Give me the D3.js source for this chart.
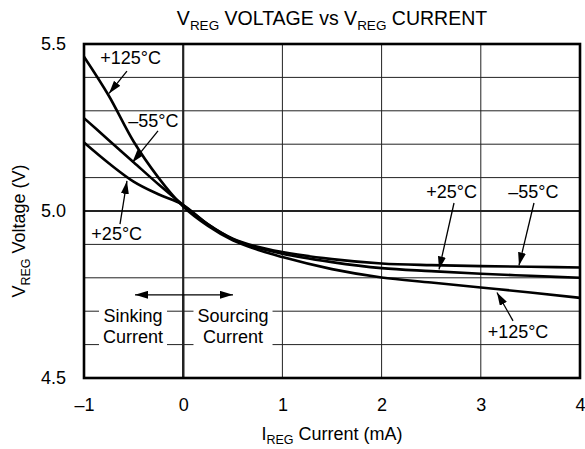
<!DOCTYPE html>
<html lang="en">
  <head>
    <meta charset="UTF-8" />
    <title>VREG voltage vs VREG current</title>
    <script src="https://d3js.org/d3.v7.min.js"></script>
    <style>
      body {
        margin: 0;
        background: #fff;
      }
      svg text {
        font-family: "Liberation Sans", Arial, sans-serif;
        font-size: 18px;
        fill: #000;
      }
    </style>
  </head>
  <body>
    <svg id="chart" width="585" height="449"></svg>

    <script>
      // current (mA) sample points
      const current = [-1, -0.75, -0.5, -0.25, 0, 0.25, 0.5, 0.75, 1, 1.5, 2, 2.5, 3, 3.5, 4];
      // regulator voltage (V) per temperature
      const v125 = [5.462, 5.345, 5.208, 5.1, 5.013, 4.955, 4.912, 4.884, 4.862, 4.826, 4.801, 4.786, 4.771, 4.756, 4.74];
      const vMinus55 = [5.278, 5.212, 5.146, 5.08, 5.018, 4.96, 4.917, 4.893, 4.877, 4.856, 4.843, 4.838, 4.835, 4.833, 4.831];
      const v25 = [5.205, 5.143, 5.088, 5.05, 5.018, 4.96, 4.916, 4.89, 4.872, 4.847, 4.829, 4.82, 4.812, 4.806, 4.8];

      const xTicks = [-1, 0, 1, 2, 3, 4];
      const yTicks = [4.5, 5.0, 5.5];

      // labels with arrows: text centre (tx, ty) and arrow from (ax0, ay0) to tip (ax1, ay1), all in data units
      const callouts = [
        { label: "+125°C", tx: -0.53, ty: 5.44, ax0: -0.567, ay0: 5.419, ax1: -0.748, ay1: 5.352 },
        { label: "–55°C", tx: -0.3, ty: 5.251, ax0: -0.254, ay0: 5.24, ax1: -0.513, ay1: 5.145 },
        { label: "+25°C", tx: -0.67, ty: 4.913, ax0: -0.637, ay0: 4.961, ax1: -0.567, ay1: 5.09 },
        { label: "+25°C", tx: 2.705, ty: 5.039, ax0: 2.73, ay0: 5.024, ax1: 2.579, ay1: 4.825 },
        { label: "–55°C", tx: 3.53, ty: 5.039, ax0: 3.536, ay0: 5.024, ax1: 3.385, ay1: 4.837 },
        { label: "+125°C", tx: 3.375, ty: 4.62, ax0: 3.325, ay0: 4.671, ax1: 3.163, ay1: 4.756 }
      ];

      const width = 585;
      const height = 449;
      const margin = { top: 44, right: 5, bottom: 71, left: 84 };

      const svg = d3.select("#chart");

      const x = d3
        .scaleLinear()
        .domain([-1, 4])
        .range([margin.left, width - margin.right]);

      const y = d3
        .scaleLinear()
        .domain([4.5, 5.5])
        .range([height - margin.bottom, margin.top]);

      // arrow head
      const defs = svg.append("defs");
      defs
        .append("marker")
        .attr("id", "head")
        .attr("viewBox", "0 0 13 8")
        .attr("refX", 13)
        .attr("refY", 4)
        .attr("markerWidth", 13)
        .attr("markerHeight", 8)
        .attr("markerUnits", "userSpaceOnUse")
        .attr("orient", "auto-start-reverse")
        .append("path")
        .attr("d", "M0,0 L13,4 L0,8 Z")
        .attr("fill", "#000");

      // grid: 0.1 V rows, 1 mA columns
      const rows = y.ticks(10);
      svg
        .append("g")
        .selectAll("line")
        .data(rows)
        .join("line")
        .attr("x1", x(-1))
        .attr("x2", x(4))
        .attr("y1", (d) => y(d))
        .attr("y2", (d) => y(d))
        .attr("stroke", "#222")
        .attr("stroke-width", (d) => (Math.abs(d - 5) < 1e-9 ? 2.2 : 1));

      svg
        .append("g")
        .selectAll("line")
        .data(xTicks)
        .join("line")
        .attr("x1", (d) => x(d))
        .attr("x2", (d) => x(d))
        .attr("y1", y(4.5))
        .attr("y2", y(5.5))
        .attr("stroke", "#222")
        .attr("stroke-width", (d) => (d === 0 ? 2.2 : 1));

      // Sinking / Sourcing note
      const note = svg.append("g");
      const noteText = [
        { cx: -0.506, lines: ["Sinking", "Current"] },
        { cx: 0.502, lines: ["Sourcing", "Current"] }
      ];
      noteText.forEach((n) => {
        const t = note
          .append("text")
          .attr("text-anchor", "middle")
          .attr("x", x(n.cx))
          .attr("y", y(4.668));
        t.append("tspan").attr("x", x(n.cx)).text(n.lines[0]);
        t.append("tspan").attr("x", x(n.cx)).attr("dy", 21).text(n.lines[1]);
        const b = t.node().getBBox();
        note
          .insert("rect", "text")
          .attr("x", b.x - 4)
          .attr("y", b.y)
          .attr("width", b.width + 8)
          .attr("height", b.height)
          .attr("fill", "#fff");
      });
      // the zero line runs through the note
      note
        .append("line")
        .attr("x1", x(0))
        .attr("x2", x(0))
        .attr("y1", y(4.75))
        .attr("y2", y(4.5))
        .attr("stroke", "#222")
        .attr("stroke-width", 2.2);

      note
        .append("line")
        .attr("x1", x(-0.486))
        .attr("x2", x(0.502))
        .attr("y1", y(4.749))
        .attr("y2", y(4.749))
        .attr("stroke", "#000")
        .attr("stroke-width", 1.3)
        .attr("marker-start", "url(#head)")
        .attr("marker-end", "url(#head)");

      // curves
      const line = d3
        .line()
        .x((d) => x(d[0]))
        .y((d) => y(d[1]))
        .curve(d3.curveMonotoneX);

      [v125, vMinus55, v25].forEach((vals) => {
        svg
          .append("path")
          .datum(current.map((c, i) => [c, vals[i]]))
          .attr("d", line)
          .attr("fill", "none")
          .attr("stroke", "#000")
          .attr("stroke-width", 2.6);
      });

      // callouts
      const call = svg.append("g").selectAll("g").data(callouts).join("g");
      call
        .append("line")
        .attr("x1", (d) => x(d.ax0))
        .attr("y1", (d) => y(d.ay0))
        .attr("x2", (d) => x(d.ax1))
        .attr("y2", (d) => y(d.ay1))
        .attr("stroke", "#000")
        .attr("stroke-width", 1.3)
        .attr("marker-end", "url(#head)");
      call
        .append("text")
        .attr("text-anchor", "middle")
        .attr("x", (d) => x(d.tx))
        .attr("y", (d) => y(d.ty))
        .text((d) => d.label);

      // frame
      svg
        .append("rect")
        .attr("x", x(-1))
        .attr("y", y(5.5))
        .attr("width", x(4) - x(-1))
        .attr("height", y(4.5) - y(5.5))
        .attr("fill", "none")
        .attr("stroke", "#000")
        .attr("stroke-width", 2.6);

      // axes (labels only, the frame draws the lines)
      const xAxis = d3
        .axisBottom(x)
        .tickValues(xTicks)
        .tickSize(0)
        .tickPadding(20)
        .tickFormat((d) => (d < 0 ? "–" + Math.abs(d) : d));
      svg
        .append("g")
        .attr("transform", `translate(0,${y(4.5)})`)
        .call(xAxis)
        .call((g) => g.select(".domain").remove())
        .selectAll("text")
        .attr("font-size", null)
        .attr("font-family", null);

      const yAxis = d3
        .axisLeft(y)
        .tickValues(yTicks)
        .tickSize(0)
        .tickPadding(18)
        .tickFormat(d3.format(".1f"));
      svg
        .append("g")
        .attr("transform", `translate(${x(-1)},0)`)
        .call(yAxis)
        .call((g) => g.select(".domain").remove())
        .selectAll("text")
        .attr("font-size", null)
        .attr("font-family", null);
      svg.selectAll(".tick text").style("font-size", "18px");

      // titles
      const title = svg
        .append("text")
        .attr("text-anchor", "middle")
        .attr("x", x(1.5))
        .attr("y", 25)
        .style("font-size", "19.5px");
      title.append("tspan").text("V");
      title.append("tspan").attr("dy", 5).style("font-size", "13.5px").text("REG");
      title.append("tspan").attr("dy", -5).text(" VOLTAGE vs V");
      title.append("tspan").attr("dy", 5).style("font-size", "13.5px").text("REG");
      title.append("tspan").attr("dy", -5).text(" CURRENT");

      const xTitle = svg
        .append("text")
        .attr("text-anchor", "middle")
        .attr("x", x(1.5))
        .attr("y", 440);
      xTitle.append("tspan").text("I");
      xTitle.append("tspan").attr("dy", 4).style("font-size", "12.5px").text("REG");
      xTitle.append("tspan").attr("dy", -4).text(" Current (mA)");

      const yTitle = svg
        .append("text")
        .attr("text-anchor", "middle")
        .attr("transform", `translate(25,${y(4.94)}) rotate(-90)`);
      yTitle.append("tspan").text("V");
      yTitle.append("tspan").attr("dy", 5).style("font-size", "12.5px").text("REG");
      yTitle.append("tspan").attr("dy", -5).text(" Voltage (V)");
    </script>
  </body>
</html>
